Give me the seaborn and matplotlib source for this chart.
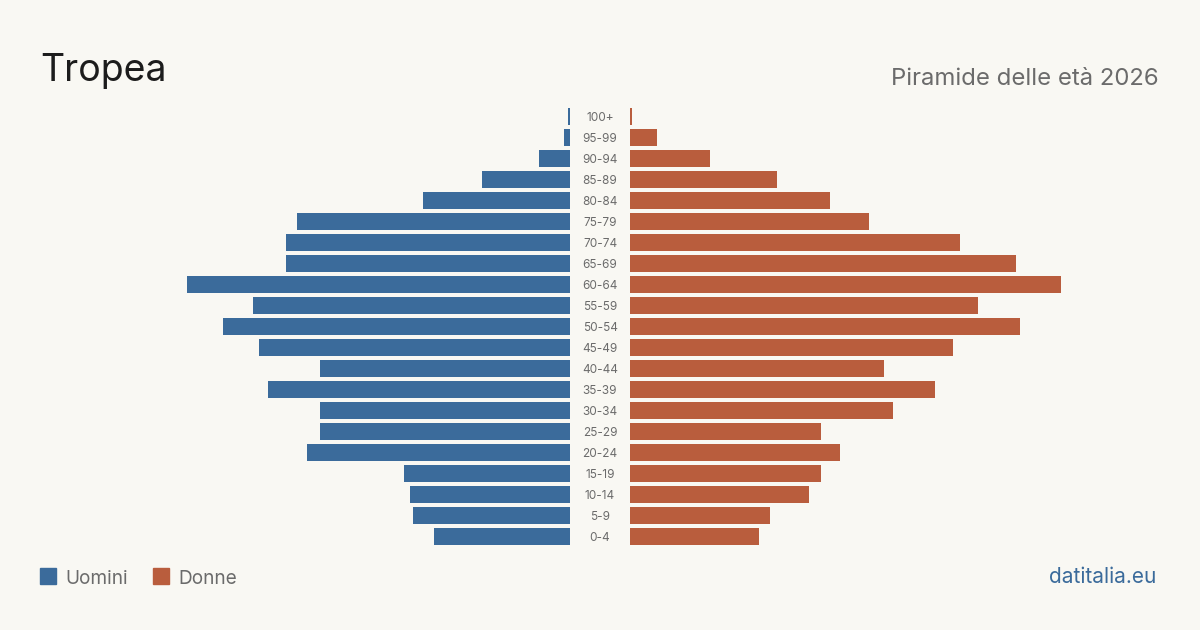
import matplotlib
matplotlib.use("Agg")
import matplotlib.pyplot as plt
import matplotlib.transforms as mtransforms
from matplotlib.patches import Rectangle
import seaborn as sns
import pandas as pd

# age groups, top to bottom
eta = ["100+", "95-99", "90-94", "85-89", "80-84", "75-79", "70-74", "65-69",
       "60-64", "55-59", "50-54", "45-49", "40-44", "35-39", "30-34", "25-29",
       "20-24", "15-19", "10-14", "5-9", "0-4"]
uomini = [1.3, 4, 21, 59, 98, 182, 189, 189, 255, 211, 231, 207, 167, 201,
          167, 167, 175, 111, 107, 105, 91]
donne = [1.3, 18, 53, 98, 133, 159, 220, 257, 287, 232, 260, 215, 169, 203,
         175, 127, 140, 127, 119, 93, 86]

titolo = "Tropea"
sottotitolo = "Piramide delle età 2026"
fonte = "datitalia.eu"

BG = "#f9f8f3"
BLUE = "#3b6b9b"
ORANGE = "#b95d3d"
GREY = "#6b6b6b"

sns.set_theme(style="white")
plt.rcParams["font.family"] = ["Inter", "DejaVu Sans"]

df = pd.DataFrame({"eta": eta, "uomini": uomini, "donne": donne})

W, H = 1200, 630
fig = plt.figure(figsize=(12, 6.3), dpi=100, facecolor=BG)

# pixel layout
px_per_unit = 1.5
top, bottom = 106, 547
half = 530
xmax = half / px_per_unit

axl = fig.add_axes([40 / W, (H - bottom) / H, half / W, (bottom - top) / H])
axr = fig.add_axes([630 / W, (H - bottom) / H, half / W, (bottom - top) / H])

sns.barplot(data=df, x="uomini", y="eta", order=eta, color=BLUE,
            saturation=1, width=0.81, ax=axl, orient="h", linewidth=0)
sns.barplot(data=df, x="donne", y="eta", order=eta, color=ORANGE,
            saturation=1, width=0.81, ax=axr, orient="h", linewidth=0)

for ax in (axl, axr):
    ax.set_facecolor("none")
    ax.set_xlim(0, xmax)
    ax.set_ylim(len(eta) - 0.5, -0.5)
    ax.set_xlabel("")
    ax.set_ylabel("")
    ax.set_xticks([])
    ax.set_yticks([])
    sns.despine(ax=ax, left=True, bottom=True)
axl.invert_xaxis()

# age labels in the middle
trans = mtransforms.blended_transform_factory(fig.transFigure, axl.transData)
for i, label in enumerate(eta):
    axl.text(600 / W, i, label, transform=trans, ha="center",
             va="center_baseline", fontsize=8.5, color=GREY, clip_on=False)

# header
fig.text(40 / W, (H - 81) / H, titolo, fontsize=27, color="#1c1c1c",
         ha="left", va="baseline")
fig.text(1159 / W, (H - 85) / H, sottotitolo, fontsize=17.2, color=GREY,
         ha="right", va="baseline")

# legend
for x0, lab, col in [(40, "Uomini", BLUE), (153, "Donne", ORANGE)]:
    fig.patches.append(Rectangle((x0 / W, (H - 584) / H), 16 / W, 16 / H,
                                 transform=fig.transFigure, color=col))
    fig.text((x0 + 25) / W, (H - 584) / H, lab, fontsize=13.7, color=GREY,
             ha="left", va="baseline")

fig.text(1156 / W, (H - 583) / H, fonte, fontsize=15, color=BLUE,
         ha="right", va="baseline")

fig.savefig("out.png", dpi=100, facecolor=BG)
